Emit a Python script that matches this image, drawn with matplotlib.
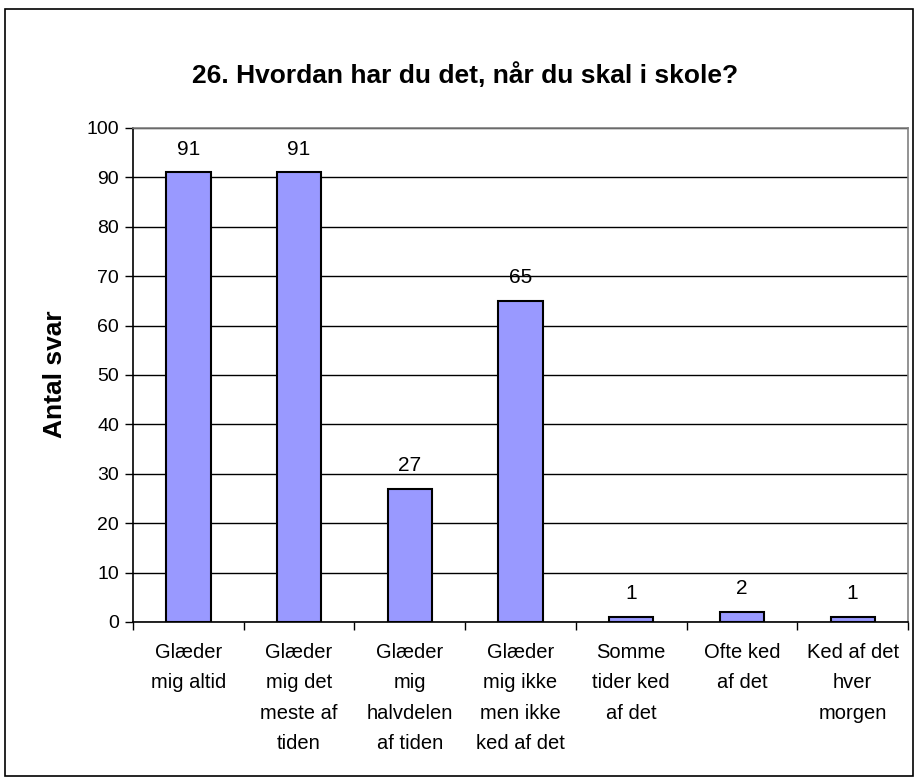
import matplotlib
matplotlib.use("Agg")
import matplotlib.pyplot as plt
from matplotlib.patches import Rectangle

plt.rcParams['font.family'] = ['Liberation Sans', 'DejaVu Sans']

categories = [
    "Glæder\nmig altid",
    "Glæder\nmig det\nmeste af\ntiden",
    "Glæder\nmig\nhalvdelen\naf tiden",
    "Glæder\nmig ikke\nmen ikke\nked af det",
    "Somme\ntider ked\naf det",
    "Ofte ked\naf det",
    "Ked af det\nhver\nmorgen",
]
values = [91, 91, 27, 65, 1, 2, 1]
yticks = list(range(0, 101, 10))
title = "26. Hvordan har du det, når du skal i skole?"
ylabel = "Antal svar"

W, H = 919, 783
fig = plt.figure(figsize=(W / 100, H / 100), dpi=100)
fig.patch.set_facecolor("white")

# outer border
fig.patches.append(Rectangle((5 / W, 1 - 776 / H), (913 - 5) / W, (776 - 9) / H,
                             transform=fig.transFigure, fill=False,
                             edgecolor="black", linewidth=1.2))

ax = fig.add_axes([133 / W, 1 - 622 / H, (908 - 133) / W, (622 - 128) / H])
x = list(range(len(categories)))
ax.bar(x, values, width=0.4, color="#9999FF", edgecolor="black", linewidth=1.5, zorder=3)

ax.set_xlim(-0.5, len(categories) - 0.5)
ax.set_ylim(0, 100)
ax.set_yticks(yticks)
ax.yaxis.grid(True, color="black", linewidth=1.0, zorder=0)
ax.set_axisbelow(True)

ax.tick_params(axis="y", direction="out", length=6, width=1, labelsize=14, pad=4)
# major x ticks at category boundaries, labels on minor ticks at centers
ax.set_xticks([i - 0.5 for i in range(len(categories) + 1)])
ax.set_xticklabels([])
ax.tick_params(axis="x", which="major", direction="out", length=6, width=1)
ax.set_xticks(x, minor=True)
ax.set_xticklabels(categories, minor=True, fontsize=14.5, linespacing=1.77)
ax.tick_params(axis="x", which="minor", length=0, pad=15)

for s in ["top", "right"]:
    ax.spines[s].set_color("#808080")
    ax.spines[s].set_linewidth(1.2)
for s in ["left", "bottom"]:
    ax.spines[s].set_color("black")
    ax.spines[s].set_linewidth(1.2)

for xi, v in zip(x, values):
    ax.annotate(str(v), (xi, v), xytext=(0, 10), textcoords="offset points",
                ha="center", va="bottom", fontsize=15)

fig.text(465.5 / W, 1 - 75 / H, title, ha="center", va="center", fontsize=19, fontweight="bold")
fig.text(55 / W, 1 - 374 / H, ylabel, ha="center", va="center", rotation=90,
         fontsize=19, fontweight="bold")

fig.savefig("out.png", dpi=100)
